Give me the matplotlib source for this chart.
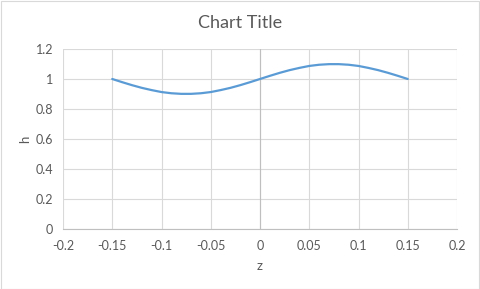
import matplotlib
matplotlib.use("Agg")
import matplotlib.pyplot as plt
from matplotlib.patches import Rectangle

z = [-0.15, -0.14, -0.13, -0.12, -0.11, -0.10, -0.09, -0.08, -0.07, -0.06, -0.05,
     -0.04, -0.03, -0.02, -0.01, 0.0, 0.01, 0.02, 0.03, 0.04, 0.05, 0.06, 0.07,
     0.08, 0.09, 0.10, 0.11, 0.12, 0.13, 0.14, 0.15]
h = [1.000, 0.979, 0.959, 0.941, 0.926, 0.913, 0.905, 0.901, 0.901, 0.905, 0.913,
     0.926, 0.941, 0.959, 0.979, 1.000, 1.021, 1.041, 1.059, 1.074, 1.087, 1.095,
     1.099, 1.099, 1.095, 1.087, 1.074, 1.059, 1.041, 1.021, 1.000]
xticks = [-0.2, -0.15, -0.1, -0.05, 0, 0.05, 0.1, 0.15, 0.2]
xlabels = ["-0.2", "-0.15", "-0.1", "-0.05", "0", "0.05", "0.1", "0.15", "0.2"]
yticks = [0, 0.2, 0.4, 0.6, 0.8, 1.0, 1.2]
ylabels = ["0", "0.2", "0.4", "0.6", "0.8", "1", "1.2"]

plt.rcParams['font.family'] = ['Lato', 'DejaVu Sans']
txt = '#595959'
grid = '#D9D9D9'

fig = plt.figure(figsize=(4.8, 2.89), dpi=100)
fig.patches.append(Rectangle((0.5/480, 0.5/289), 1 - 1.5/480, 1 - 1.5/289,
                             transform=fig.transFigure, fill=False,
                             edgecolor=grid, linewidth=0.8))
ax = fig.add_axes([63/480, 1 - 229/289, (457 - 63)/480, (229 - 49)/289])
ax.set_xlim(-0.2, 0.2)
ax.set_ylim(0, 1.2)
ax.set_xticks(xticks)
ax.set_xticklabels(xlabels)
ax.set_yticks(yticks)
ax.set_yticklabels(ylabels)
ax.grid(True, color=grid, linewidth=0.8)
ax.set_axisbelow(True)
for s in ['top', 'right', 'left']:
    ax.spines[s].set_visible(False)
ax.spines['bottom'].set_color('#BFBFBF')
ax.spines['bottom'].set_linewidth(0.8)
ax.axvline(0, color='#BFBFBF', linewidth=0.8, zorder=1)
ax.tick_params(length=0, labelsize=9, colors=txt)
ax.tick_params(axis='x', pad=8)
ax.tick_params(axis='y', pad=7)
ax.plot(z, h, color='#5B9BD5', linewidth=1.6, solid_capstyle='round', zorder=3)
ax.set_xlabel('z', color=txt, fontsize=9.5, labelpad=6)
ax.set_ylabel('h', color=txt, fontsize=9.5, labelpad=3)
fig.text(0.5, 1 - 23/289, 'Chart Title', ha='center', va='center',
         fontsize=13, color=txt)
fig.savefig('out.png', dpi=100)
